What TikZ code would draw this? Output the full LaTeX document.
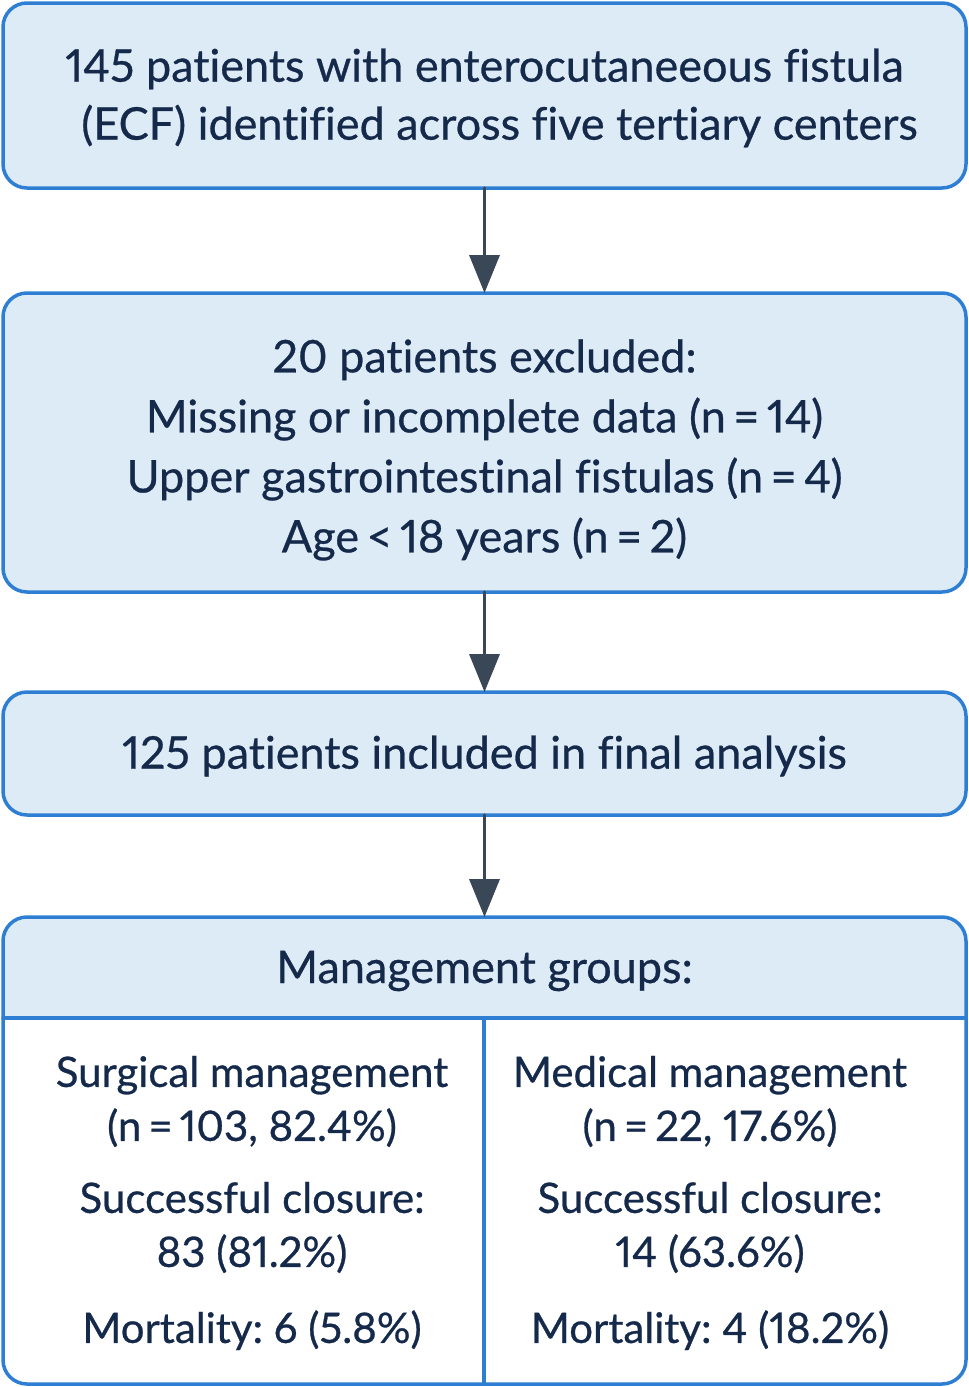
\documentclass[tikz,border=0pt]{standalone}
\usepackage{fontspec}
\setmainfont{Lato}[Ligatures=NoCommon,Numbers=Proportional,FakeBold=0.6]
\usetikzlibrary{arrows.meta,positioning}
\frenchspacing
\definecolor{boxblue}{HTML}{2E7FD3}
\definecolor{boxfill}{HTML}{DDEBF7}
\definecolor{txtnavy}{HTML}{15294A}
\definecolor{arrowgray}{HTML}{3A4756}

\begin{document}
\begin{tikzpicture}[x=1pt,y=-1pt,line cap=round,line join=round,
  box/.style={draw=boxblue,fill=boxfill,line width=3.5pt,rounded corners=24pt,
    minimum width=963pt,inner sep=0pt,outer sep=0pt,align=center,text=txtnavy,
    font=\fontsize{45}{58}\selectfont},
  coltext/.style={align=center,text=txtnavy,inner sep=0pt,font=\fontsize{42}{54}\selectfont},
  flow/.style={-{Triangle[length=38pt,width=30pt]},draw=arrowgray,fill=arrowgray,line width=3.5pt}]
\path[use as bounding box] (0,0) rectangle (969,1387);
% flow boxes
\node[box,minimum height=185pt] (found) at (484.5,95.5)
  {\rule{0pt}{38pt}145 patients with enterocutaneeous fistula\\\hspace*{30pt}(ECF) identified across five tertiary centers};
\node[box,minimum height=299pt,font=\fontsize{45}{60}\selectfont] (excl) at (484.5,442.5)
  {\rule{0pt}{48pt}20 patients excluded:\\Missing or incomplete data (n\,=\,14)\\Upper gastrointestinal fistulas (n\,=\,4)\\Age\,<\,18 years (n\,=\,2)};
\node[box,minimum height=123pt] (incl) at (484.5,753.5)
  {\rule{0pt}{38pt}125 patients included in final analysis};
% management groups
\node[box,draw=none,fill=white,minimum height=467pt] (groups) at (484.5,1150.5) {};
\begin{scope}
  \clip (0,0) rectangle (969,1018);
  \fill[boxfill,rounded corners=24pt] (groups.north west) rectangle (groups.south east);
\end{scope}
\draw[boxblue,line width=3.5pt,rounded corners=24pt] (groups.north west) rectangle (groups.south east);
\coordinate (hl) at (3,1018);
\coordinate (hr) at (966,1018);
\coordinate (hm) at (484,1018);
\draw[boxblue,line width=3.5pt] (hl) -- (hr);
\draw[boxblue,line width=3.5pt] (hm) -- (hm |- groups.south);
\node[coltext,font=\fontsize{45}{54}\selectfont] (head) at (484.5,971) {Management groups:};
\node[coltext] (surg) at (252,1203)
  {Surgical management\\(n\,=\,103, 82.4\%)\\[18pt]Successful closure:\\83 (81.2\%)\\[22pt]Mortality: 6 (5.8\%)};
\node[coltext] (med) at (710,1203)
  {Medical management\\(n\,=\,22, 17.6\%)\\[18pt]Successful closure:\\14 (63.6\%)\\[22pt]Mortality: 4 (18.2\%)};
% arrows
\draw[flow] (found) -- (excl);
\draw[flow] (excl) -- (incl);
\draw[flow] (incl) -- (groups);
\end{tikzpicture}
\end{document}
